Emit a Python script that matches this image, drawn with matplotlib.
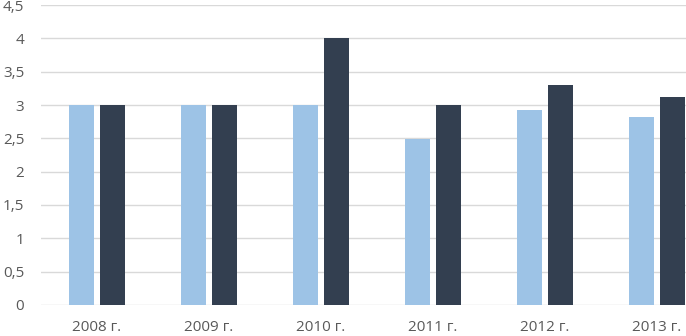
import numpy as np
import matplotlib
matplotlib.use("Agg")
import matplotlib.pyplot as plt
from matplotlib.ticker import FuncFormatter

years = ["2008 г.", "2009 г.", "2010 г.", "2011 г.", "2012 г.", "2013 г."]
series_a = [3.0, 3.0, 3.0, 2.49, 2.92, 2.82]
series_b = [3.0, 3.0, 4.0, 3.0, 3.3, 3.12]

plt.rcParams['font.family'] = ['Open Sans', 'DejaVu Sans']

fig = plt.figure(figsize=(6.86, 3.36), dpi=100)
ax = fig.add_axes([41/686, 31/336, 672/686, 300/336])

x = np.arange(len(years))
w = 0.223
off = 0.14
ax.bar(x - off, series_a, w, color="#9DC3E6", zorder=3)
ax.bar(x + off, series_b, w, color="#333F50", zorder=3)

ax.set_xlim(-0.5, len(years) - 0.5)
ax.set_ylim(0, 4.5)
ax.set_yticks(np.arange(0, 4.51, 0.5))
ax.yaxis.set_major_formatter(FuncFormatter(lambda v, p: ("%g" % v).replace(".", ",")))
ax.set_xticks(x)
ax.set_xticklabels(years)

ax.grid(axis="y", color="#D9D9D9", linewidth=1, zorder=0)
for s in ax.spines.values():
    s.set_visible(False)
ax.tick_params(axis="both", length=0, colors="#595959", labelsize=11)
ax.tick_params(axis="y", pad=12)
ax.tick_params(axis="x", pad=11)

fig.savefig("out.png", dpi=100)
